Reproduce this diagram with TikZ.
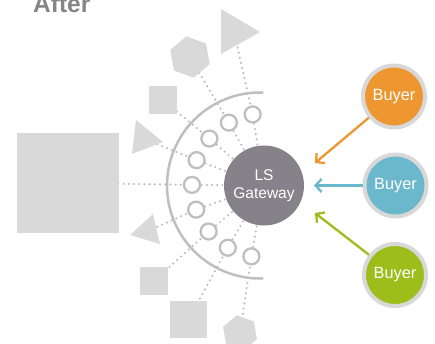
\documentclass[tikz,border=0pt]{standalone}
\usepackage{fontspec}
\setmainfont{Liberation Sans}
\usetikzlibrary{calc,arrows.meta}
\definecolor{shapegray}{HTML}{D9D9D9}
\definecolor{dotgray}{HTML}{BDBDBD}
\definecolor{ringgray}{HTML}{BFBFBF}
\definecolor{gwgray}{HTML}{85828A}
\definecolor{buyorange}{HTML}{EE9630}
\definecolor{buyblue}{HTML}{6BB7CB}
\definecolor{buygreen}{HTML}{9CBD1A}
\definecolor{buyring}{HTML}{D8D8D8}
\definecolor{titlegray}{HTML}{858585}
\begin{document}
\begin{tikzpicture}[x=1pt,y=-1pt,
 dotline/.style={draw=dotgray,line width=2.4pt,line cap=round,dash pattern=on 0pt off 5.2pt},
 shapefill/.style={fill=shapegray},
 sqbox/.style={fill=shapegray,inner sep=0pt,outer sep=0pt},
 portcircle/.style={circle,draw=ringgray,line width=2.3pt,fill=white,minimum size=16pt,inner sep=0pt},
 gateway/.style={circle,fill=gwgray,minimum size=80pt,inner sep=0pt,text=white,font=\fontsize{15.5}{18}\selectfont,align=center},
 buyer/.style={circle,draw=buyring,line width=4pt,minimum size=62pt,inner sep=0pt,text=white,font=\fontsize{16.3}{18}\selectfont},
 buyarrow/.style={line width=2.3pt,-{Straight Barb[length=6pt,width=13pt]}},
]
\useasboundingbox (0,0) rectangle (435,344);

\coordinate (G) at (264,185.5);
\coordinate (A) at (260,185.5);
\foreach \i/\a in {1/99.1,2/119.2,3/139.3,4/159.4,5/179.5,6/199.6,7/219.7,8/239.8,9/259.9}
  \coordinate (p\i) at ($(G)+(-\a:72)$);

% shape positions
\coordinate (s1) at (234,32);
\coordinate (s2) at (190,57);
\coordinate (s3) at (163,100);
\coordinate (s4) at (143.7,138.7);
\coordinate (s5) at (68,183);
\coordinate (s6) at (147.7,231);
\coordinate (s7) at (154,281);
\coordinate (s8) at (188.5,319.5);
\coordinate (s9) at (240,333);

% dotted links
\foreach \i in {1,...,9}
  \draw[dotline] (G) -- (p\i) -- (s\i);

% shapes
\fill[shapefill] (221,9) -- (260,32) -- (221,54) -- cycle;
\fill[shapefill] ($(s2)+(-40:21)$) -- ($(s2)+(-100:21)$) -- ($(s2)+(-160:21)$) -- ($(s2)+(-220:21)$) -- ($(s2)+(-280:21)$) -- ($(s2)+(-340:21)$) -- cycle;
\node[sqbox,minimum size=28pt] (sq3) at (s3) {};
\fill[shapefill] (136,120) -- (163,142) -- (132,154) -- cycle;
\node[sqbox,minimum width=102pt,minimum height=100pt] (sq5) at (s5) {};
\fill[shapefill] (153,214) -- (130,235) -- (160,244) -- cycle;
\node[sqbox,minimum size=28pt] (sq7) at (s7) {};
\node[sqbox,minimum size=37pt] (sq8) at (s8) {};
\fill[shapefill] ($(s9)+(-40:18)$) -- ($(s9)+(-100:18)$) -- ($(s9)+(-160:18)$) -- ($(s9)+(-220:18)$) -- ($(s9)+(-280:18)$) -- ($(s9)+(-340:18)$) -- cycle;

% big arc
\draw[ringgray,line width=2.5pt] ($(A)+(-88:93)$) arc[start angle=-88,end angle=-272,radius=93];

% port circles
\foreach \i in {1,...,9}
  \node[portcircle] (c\i) at (p\i) {};

% gateway
\node[gateway] (gw) at (G) {LS\\Gateway};

% buyers
\node[buyer,fill=buyorange] (b1) at (394,96.5) {Buyer};
\node[buyer,fill=buyblue] (b2) at (395.5,185.5) {Buyer};
\node[buyer,fill=buygreen] (b3) at (395,275) {Buyer};

\coordinate (t1) at (315,163);
\coordinate (t2) at (314,185.5);
\coordinate (t3) at (315,213);
\draw[buyarrow,buyorange] (b1) -- (t1);
\draw[buyarrow,buyblue] (b2) -- (t2);
\draw[buyarrow,buygreen] (b3) -- (t3);

% title
\node[anchor=base west,text=titlegray,font=\bfseries\fontsize{24.5}{28}\selectfont,inner sep=0pt] (title) at (33,13) {After};
\end{tikzpicture}
\end{document}
